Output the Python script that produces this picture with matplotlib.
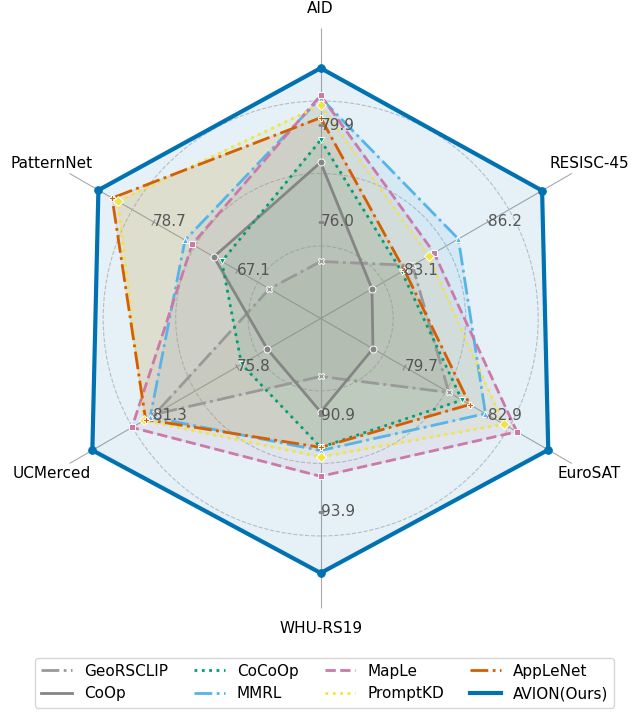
import numpy as np
from matplotlib import pyplot as plt

# axes of the radar, clockwise from the top
categories = ["AID", "RESISC-45", "EuroSAT", "WHU-RS19", "UCMerced", "PatternNet"]

# the two value labels printed on each axis (at 1/3 and 2/3 of the radius)
tick_low = [76.0, 83.1, 79.7, 90.9, 75.8, 67.1]
tick_high = [79.9, 86.2, 82.9, 93.9, 81.3, 78.7]

# accuracy per method
geo = [74.4, 83.4, 81.4, 89.7, 81.2, 62.6]
coop = [78.4, 81.9, 78.5, 90.8, 73.8, 70.3]
cocoop = [79.3, 83.0, 81.9, 91.9, 75.5, 69.2]
mmrl = [81.0, 85.1, 82.8, 92.0, 81.5, 74.3]
maple = [81.1, 84.2, 84.0, 92.8, 82.7, 73.3]
promptkd = [80.7, 84.0, 83.5, 92.2, 81.9, 83.6]
applenet = [80.2, 83.1, 82.2, 91.9, 81.8, 84.4]
avion = [82.2, 88.2, 85.2, 95.8, 85.3, 86.3]

methods = ["GeoRSCLIP", "CoOp", "CoCoOp", "MMRL", "MapLe", "PromptKD", "AppLeNet", "AVION(Ours)"]
series = [geo, coop, cocoop, mmrl, maple, promptkd, applenet, avion]
colors = ["#999999", "#858585", "#009E73", "#56B4E9", "#CC79A7", "#F0E442", "#D55E00", "#0072B2"]
styles = ["-.", "-", ":", "-.", "--", ":", "-.", "-"]
markers = ["X", "o", "v", "^", "s", "D", "P", "o"]

low = np.array(tick_low)
high = np.array(tick_high)
lo = 2 * low - high
hi = 2 * high - low

angles = np.deg2rad(np.arange(6) * 60.0)

fig = plt.figure(figsize=(6.43, 7.13), dpi=100)
ax = fig.add_axes([0.0477, 0.1466, 0.902, 0.8135], polar=True)
ax.set_theta_offset(np.pi / 2)
ax.set_theta_direction(-1)
ax.set_ylim(0, 1)
ax.spines["polar"].set_visible(False)
ax.set_facecolor("white")

ax.set_xticks(angles)
ax.set_xticklabels([])
ax.set_rgrids([0.25, 0.5, 0.75], labels=[])
ax.xaxis.grid(True, color="#aaaaaa", linewidth=0.8, linestyle="-")
ax.yaxis.grid(True, color="#c8c8c8", linewidth=0.8, linestyle="--")

for name, vals, c, ls, m in zip(methods, series, colors, styles, markers):
    r = (np.array(vals) - lo) / (hi - lo)
    th = np.append(angles, angles[0])
    rr = np.append(r, r[0])
    lw = 3.0 if name.startswith("AVION") else 2.0
    ax.fill(th, rr, color=c, alpha=0.1, zorder=2)
    ax.plot(th, rr, color=c, linestyle=ls, linewidth=lw, label=name, zorder=3)
    ax.plot(angles, r, linestyle="none", marker=m, color=c,
            markersize=5.5 if name.startswith("AVION") else 5,
            markeredgecolor="white" if not name.startswith("AVION") else c,
            markeredgewidth=0.7, zorder=4)

# category names
for a, name in zip(angles, categories):
    ax.text(a, 1.07, name, ha="center", va="center", fontsize=11, color="black")

# value labels on each axis
for a, t1, t2 in zip(angles, tick_low, tick_high):
    phi = 90 - np.rad2deg(a)
    for rv, t in ((1 / 3, t1), (2 / 3, t2)):
        ax.plot([a], [rv], linestyle="none", marker=(2, 0, phi), markersize=5,
                color="#888888", markeredgewidth=0.8, zorder=5)
        ax.text(a, rv, "%.1f" % t, ha="left", va="center", fontsize=11,
                color="#555555", zorder=6)

fig.legend(loc="lower center", bbox_to_anchor=(0.505, -0.003), ncol=4, fontsize=11,
           columnspacing=1.7, frameon=True, edgecolor="#cccccc")

fig.savefig("out.png", dpi=100)
